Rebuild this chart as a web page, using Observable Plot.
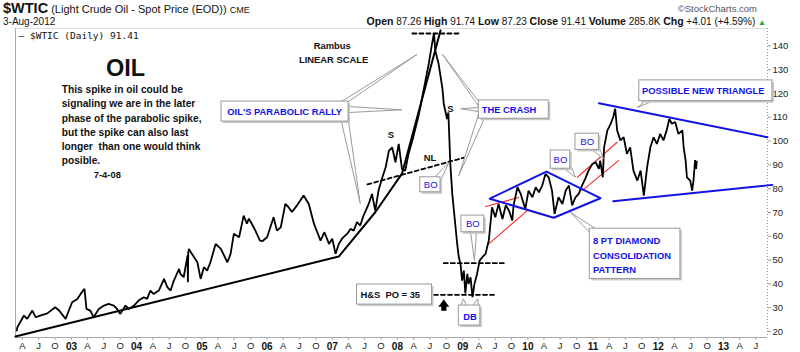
<!DOCTYPE html>
<html><head><meta charset="utf-8">
<script src="https://cdn.jsdelivr.net/npm/d3@7"></script>
<script src="https://cdn.jsdelivr.net/npm/@observablehq/plot@0.6"></script>
<style>
body{margin:0;background:#fff;font-family:"Liberation Sans",Arial,sans-serif;color:#111;}
#hdr{position:relative;height:27px;width:800px;}
#hdr div{position:absolute;white-space:nowrap;}
</style></head><body>
<div id="hdr">
  <div style="left:3px;top:1px;font-size:11px;line-height:15px"><b style="font-size:14.5px">$WTIC</b> (Light Crude Oil - Spot Price (EOD)) <span style="font-size:9px">CME</span></div>
  <div style="left:3px;top:16px;font-size:10px;line-height:11px">3-Aug-2012</div>
  <div style="right:43px;top:3px;font-size:9.5px;color:#555">&#169;StockCharts.com</div>
  <div style="right:34px;top:16px;font-size:10px;line-height:11px"><b style="font-size:10.5px">Open</b> 87.26 <b style="font-size:10.5px">High</b> 91.74 <b style="font-size:10.5px">Low</b> 87.23 <b style="font-size:10.5px">Close</b> 91.41 <b style="font-size:10.5px">Volume</b> 285.8K <b style="font-size:10.5px">Chg</b> +4.01 (+4.59%) <span style="color:#2a2;font-size:8px">&#9650;</span></div>
</div>
<div id="chart"></div>
<script>
// ---- data: WTIC daily spot price (decimal year, close) ----
const wtic = [
[2002.16,20.4],[2002.17,21.8],[2002.27,26.7],[2002.32,25.3],[2002.40,28.8],[2002.45,26.0],[2002.52,26.7],[2002.63,27.6],[2002.75,30.2],[2002.81,28.8],[2002.91,25.3],
[2003.01,32.3],[2003.09,33.7],[2003.14,35.8],[2003.20,37.9],[2003.23,29.5],[2003.29,28.8],[2003.34,26.0],[2003.42,29.5],[2003.50,30.9],[2003.57,31.6],[2003.65,30.9],[2003.70,29.5],[2003.75,27.4],[2003.83,30.9],[2003.88,29.5],[2003.96,30.9],
[2004.03,33.0],[2004.11,34.4],[2004.16,33.7],[2004.21,37.2],[2004.26,35.8],[2004.34,37.2],[2004.42,42.1],[2004.47,38.6],[2004.52,37.2],[2004.57,41.4],[2004.65,46.3],[2004.67,44.2],[2004.72,42.8],[2004.78,52.0],[2004.785,40.7],[2004.79,53.0],[2004.80,54.7],[2004.83,53.3],[2004.88,51.2],[2004.93,49.1],[2004.98,42.1],
[2005.03,47.0],[2005.08,45.6],[2005.13,49.1],[2005.21,56.8],[2005.29,54.7],[2005.39,49.1],[2005.44,52.6],[2005.49,61.1],[2005.57,59.6],[2005.64,68.7],[2005.69,65.3],[2005.72,67.4],[2005.75,66.0],[2005.82,62.4],[2005.89,58.2],[2005.93,58.0],
[2006.00,59.6],[2006.05,63.8],[2006.10,68.0],[2006.15,62.4],[2006.21,63.8],[2006.28,73.6],[2006.33,72.2],[2006.38,70.2],[2006.46,73.0],[2006.51,75.0],[2006.56,77.1],[2006.64,73.6],[2006.72,65.2],[2006.77,61.7],[2006.82,58.2],[2006.88,61.7],[2006.95,56.8],
[2007.00,59.0],[2007.05,52.6],[2007.10,56.8],[2007.15,59.0],[2007.23,61.1],[2007.28,63.1],[2007.33,62.4],[2007.38,66.0],[2007.43,64.5],[2007.48,68.7],[2007.56,73.6],[2007.61,77.8],[2007.66,70.8],[2007.71,79.2],[2007.77,84.8],[2007.82,89.0],[2007.87,96.0],[2007.92,97.4],[2007.97,91.1],
[2008.02,98.8],[2008.07,88.3],[2008.12,87.6],[2008.17,94.6],[2008.23,100.3],[2008.28,105.8],[2008.33,111.4],[2008.38,118.4],[2008.43,125.5],[2008.48,132.5],[2008.53,140.8],[2008.56,145.3],[2008.58,138.0],[2008.63,132.5],[2008.69,121.9],[2008.71,115.6],[2008.76,109.3],[2008.78,112.0],[2008.81,90.4],[2008.84,77.8],[2008.865,70.8],[2008.89,63.8],[2008.915,56.8],[2008.94,51.2],[2008.966,48.4],[2008.99,41.4],
[2009.017,45.6],[2009.04,36.0],[2009.07,44.2],[2009.09,40.0],[2009.12,42.8],[2009.15,34.4],[2009.18,40.0],[2009.22,44.2],[2009.26,49.8],[2009.30,51.2],[2009.35,52.6],[2009.40,58.2],[2009.45,72.2],[2009.50,68.0],[2009.55,73.6],[2009.61,67.3],[2009.66,73.0],[2009.71,70.8],[2009.76,66.6],[2009.78,73.0],[2009.84,80.6],[2009.89,77.8],[2009.96,71.5],
[2010.01,79.2],[2010.07,76.4],[2010.12,80.6],[2010.17,78.5],[2010.22,81.3],[2010.27,86.2],[2010.32,84.8],[2010.37,79.2],[2010.41,69.4],[2010.47,76.4],[2010.53,73.6],[2010.58,79.2],[2010.63,81.3],[2010.68,73.0],[2010.73,76.4],[2010.78,77.8],[2010.83,81.3],[2010.88,84.1],[2010.93,87.6],[2010.99,90.4],
[2011.04,91.1],[2011.09,88.3],[2011.11,91.8],[2011.15,84.8],[2011.17,97.4],[2011.22,104.5],[2011.27,107.2],[2011.31,110.1],[2011.34,113.6],[2011.37,104.5],[2011.42,100.3],[2011.47,101.6],[2011.52,94.6],[2011.57,97.4],[2011.62,87.6],[2011.68,83.4],[2011.73,87.6],[2011.78,77.1],[2011.83,89.0],[2011.88,97.4],[2011.93,101.6],[2011.98,98.8],
[2012.03,103.0],[2012.08,100.3],[2012.13,104.5],[2012.17,109.3],[2012.21,107.3],[2012.26,108.0],[2012.31,103.0],[2012.37,104.5],[2012.39,97.4],[2012.42,91.8],[2012.44,84.8],[2012.49,83.4],[2012.52,79.2],[2012.54,83.4],[2012.565,92.0],[2012.58,88.3],[2012.59,91.4]
];
const priceTicks = [20,30,40,50,60,70,80,90,100,110,120,130,140];
const quarterLabels = ["A","J","O"];          // April, July, October
const xRange = [2002.141, 2013.675];
const yRange = [17.48, 147.3];

// trend lines (decimal year, price)
const parabolicLine = [[2002.14,17.9],[2007.10,51.5],[2007.66,70.1],[2008.07,86.3],[2008.66,146.5]];
const dashedLines = [
  {id:"top", pts:[[2008.23,145.2],[2008.96,145.2]]},
  {id:"NL",  pts:[[2007.54,81.8],[2009.04,93.2]]},
  {id:"BO",  pts:[[2008.71,48.7],[2009.66,48.7]]},
  {id:"PO",  pts:[[2008.56,35.4],[2009.50,35.4]]}
];
const diamond = [[2009.415,75.8],[2010.285,87.2],[2011.113,76.0],[2010.397,67.8],[2009.415,75.8]];
const triangleLines = [
  {id:"upper", pts:[[2011.09,115.9],[2013.675,101.6]]},
  {id:"lower", pts:[[2011.31,74.7],[2013.75,81.6]]}
];
const redLines = [
  {id:"a1", pts:[[2009.35,72.5],[2009.86,76.3]]},
  {id:"a2", pts:[[2009.40,56.8],[2009.99,70.8]]},
  {id:"b1", pts:[[2010.76,84.8],[2011.37,99.5]]},
  {id:"b2", pts:[[2010.83,79.2],[2011.39,91.8]]}
];
const arrowShape = [[2008.71,33.3],[2008.787,30.5],[2008.747,30.5],[2008.747,28.8],[2008.675,28.8],[2008.675,30.5],[2008.633,30.5],[2008.71,33.3]];

// callout boxes
const boxes = [
  {x1:2005.30, x2:2007.25, y1:108.2, y2:116.6},
  {x1:2009.247,x2:2010.321,y1:109.4, y2:117.1},
  {x1:2011.71, x2:2013.75, y1:116.8, y2:125.5},
  {x1:2010.95, x2:2012.34, y1:42.1,  y2:63.2},
  {x1:2007.38, x2:2008.53, y1:31.3,  y2:39.75},
  {x1:2008.94, x2:2009.27, y1:22.5,  y2:30.9},
  {x1:2008.35, x2:2008.66, y1:78.5,  y2:84.8},
  {x1:2008.98, x2:2009.33, y1:61.7,  y2:68.7},
  {x1:2010.35, x2:2010.65, y1:88.4,  y2:96.05},
  {x1:2010.73, x2:2011.09, y1:96.3,  y2:103.1}
];
const pointers = [
  [[2007.14,116.6],[2007.25,116.6],[2008.30,136.4]],
  [[2007.25,114.5],[2007.25,112.0],[2008.07,113.15]],
  [[2007.14,108.2],[2007.25,108.2],[2007.43,73.7]],
  [[2009.247,116.6],[2009.247,114.5],[2008.69,136.4]],
  [[2009.247,114.1],[2009.247,112.4],[2008.97,113.6]],
  [[2009.247,111.6],[2009.33,109.4],[2008.94,85.5]],
  [[2011.80,116.8],[2011.91,116.8],[2011.68,114.1]],
  [[2010.95,61.6],[2011.04,63.2],[2010.65,70.1]],
  [[2008.57,84.8],[2008.66,83.4],[2008.79,91.1]],
  [[2009.12,61.7],[2009.21,61.7],[2009.18,49.8]],
  [[2010.56,88.4],[2010.65,90.2],[2010.73,84.8]],
  [[2010.99,96.3],[2011.09,97.7],[2011.16,92.6]],
  [[2008.97,30.9],[2009.06,30.9],[2009.01,33.7]],
  [[2009.15,30.9],[2009.24,30.9],[2009.23,33.7]]
];

// text annotations
const blueBold = [
  {t:2006.27, p:112.4, text:"OIL'S PARABOLIC RALLY"},
  {t:2009.71, p:113.2, text:"THE CRASH"},
  {t:2012.69, p:121.1, text:"POSSIBLE NEW TRIANGLE"},
  {t:2009.11, p:26.3,  text:"DB"}
];
const diamondNote = {t:2011.0, p:52.6, text:"8 PT DIAMOND\nCONSOLIDATION\nPATTERN"};
const boLabels = [
  {t:2008.51, p:81.7}, {t:2009.155, p:65.3}, {t:2010.50, p:92.2}, {t:2010.91, p:99.7}
];
const blackBold = [
  {t:2007.00, p:139.9, text:"Rambus"},
  {t:2007.02, p:134.2, text:"LINEAR SCALE"},
  {t:2007.90, p:102.6, text:"S"},
  {t:2008.81, p:113.4, text:"S"},
  {t:2008.50, p:92.8,  text:"NL"},
  {t:2007.89, p:35.4,  text:"H&S  PO = 35"},
  {t:2003.55, p:85.8,  text:"7-4-08"}
];
const titleNote = {t:2003.83, p:130.4, text:"OIL"};
const commentLines = ["This spike in oil could be","signaling we are in the later","phase of the parabolic spike,","but the spike can also last","longer  than one would think","posible."];
const commentAnchor = {t:2002.85, p:107.1};

// ---- build ----
function yr(t){const y=Math.floor(t);const a=Date.UTC(y,0,1),b=Date.UTC(y+1,0,1);return new Date(a+(t-y)*(b-a));}
const series = wtic.map(([t,p])=>({date:yr(t), price:p}));
const xDom = xRange.map(yr);
const flat = (groups)=>groups.flatMap(g=>g.pts.map(([t,p])=>({id:g.id, date:yr(t), price:p})));
const ptr = pointers.flatMap((g,i)=>[...g, g[0]].map(([t,p])=>({id:i, date:yr(t), price:p})));
const qAll = d3.utcMonth.every(3).range(yr(2002), yr(2014)).filter(d=>d>=xDom[0] && d<=xDom[1]);
const yearTicks = qAll.filter(d=>d.getUTCMonth()===0);
const letterTicks = qAll.filter(d=>d.getUTCMonth()!==0);
const F = "Liberation Sans, Arial, sans-serif";
const BLUE = "#1212e8";

const chart = Plot.plot({
  width: 800, height: 325,
  marginTop: 1, marginBottom: 15, marginLeft: 15, marginRight: 33,
  style: {fontFamily: F, background: "#fff", overflow: "visible"},
  x: {type: "utc", domain: xDom},
  y: {domain: yRange},
  marks: [
    Plot.ruleY([yRange[0]], {stroke: "#aaa"}),
    Plot.ruleY([yRange[1]], {stroke: "#ddd"}),
    Plot.ruleX([xDom[0]], {stroke: "#aaa"}),
    Plot.ruleX([xDom[1]], {stroke: "#999", strokeDasharray: "1,2"}),
    Plot.axisY(priceTicks, {anchor: "right", tickSize: 3, tickPadding: 2, fontSize: 9.5, label: null, stroke: "#999", fill: "#222"}),
    Plot.axisX(letterTicks, {anchor: "bottom", tickSize: 3, tickPadding: 2, fontSize: 9.5, label: null, stroke: "#aaa", fill: "#222",
      tickFormat: d => quarterLabels[d.getUTCMonth()/3 - 1]}),
    Plot.axisX(yearTicks, {anchor: "bottom", tickSize: 3, tickPadding: 2, fontSize: 10, fontWeight: "bold", label: null, stroke: "#aaa", fill: "#111",
      tickFormat: d => String(d.getUTCFullYear() % 100).padStart(2, "0")}),
    // legend
    Plot.text(["\u2014 $WTIC (Daily) 91.41"], {frameAnchor: "top-left", dx: 3, dy: 4, textAnchor: "start", fontSize: 9.5, fontFamily: "DejaVu Sans Mono, monospace", fill: "#111"}),
    // trend lines
    Plot.line(parabolicLine.map(([t,p])=>({date:yr(t), price:p})), {x:"date", y:"price", stroke:"black", strokeWidth:2}),
    Plot.line(flat(redLines), {x:"date", y:"price", z:"id", stroke:"#ff2a2a", strokeWidth:1.1}),
    // price
    Plot.line(series, {x:"date", y:"price", stroke:"black", strokeWidth:1.8, strokeLinejoin:"miter"}),
    Plot.line(flat(dashedLines), {x:"date", y:"price", z:"id", stroke:"black", strokeWidth:1.8, strokeDasharray:"4,3"}),
    Plot.line(diamond.map(([t,p])=>({date:yr(t), price:p})), {x:"date", y:"price", stroke:BLUE, strokeWidth:2}),
    Plot.line(flat(triangleLines), {x:"date", y:"price", z:"id", stroke:BLUE, strokeWidth:2}),
    Plot.line(arrowShape.map(([t,p])=>({date:yr(t), price:p})), {x:"date", y:"price", fill:"black", stroke:"black", strokeWidth:0.5}),
    // callouts
    Plot.line(ptr, {x:"date", y:"price", z:"id", fill:"#fff", stroke:"#9a9a9a", strokeWidth:1}),
    Plot.rect(boxes, {x1:d=>yr(d.x1), x2:d=>yr(d.x2), y1:"y1", y2:"y2", fill:"#c8c8c8", dx:2, dy:2}),
    Plot.rect(boxes, {x1:d=>yr(d.x1), x2:d=>yr(d.x2), y1:"y1", y2:"y2", fill:"#fff", stroke:"#9a9a9a", strokeWidth:1}),
    // texts
    Plot.text(blueBold, {x:d=>yr(d.t), y:"p", text:"text", fill:BLUE, fontWeight:"bold", fontSize:9.4}),
    Plot.text([diamondNote], {x:d=>yr(d.t), y:"p", text:"text", fill:BLUE, fontWeight:"bold", fontSize:9.4, textAnchor:"start", lineHeight:1.53}),
    Plot.text(boLabels, {x:d=>yr(d.t), y:"p", text:()=>"BO", fill:BLUE, fontSize:9.5}),
    Plot.text(blackBold, {x:d=>yr(d.t), y:"p", text:"text", fill:"#111", fontWeight:"bold", fontSize:9.4}),
    Plot.text([titleNote], {x:d=>yr(d.t), y:"p", text:"text", fill:"#111", fontWeight:"bold", fontSize:23.5}),
    Plot.text([commentAnchor], {x:d=>yr(d.t), y:"p", text:()=>commentLines.join("\n"), fill:"#111", fontWeight:"bold", fontSize:10.2, textAnchor:"start", lineHeight:1.39})
  ]
});
document.getElementById("chart").appendChild(chart);
</script>
</body></html>
